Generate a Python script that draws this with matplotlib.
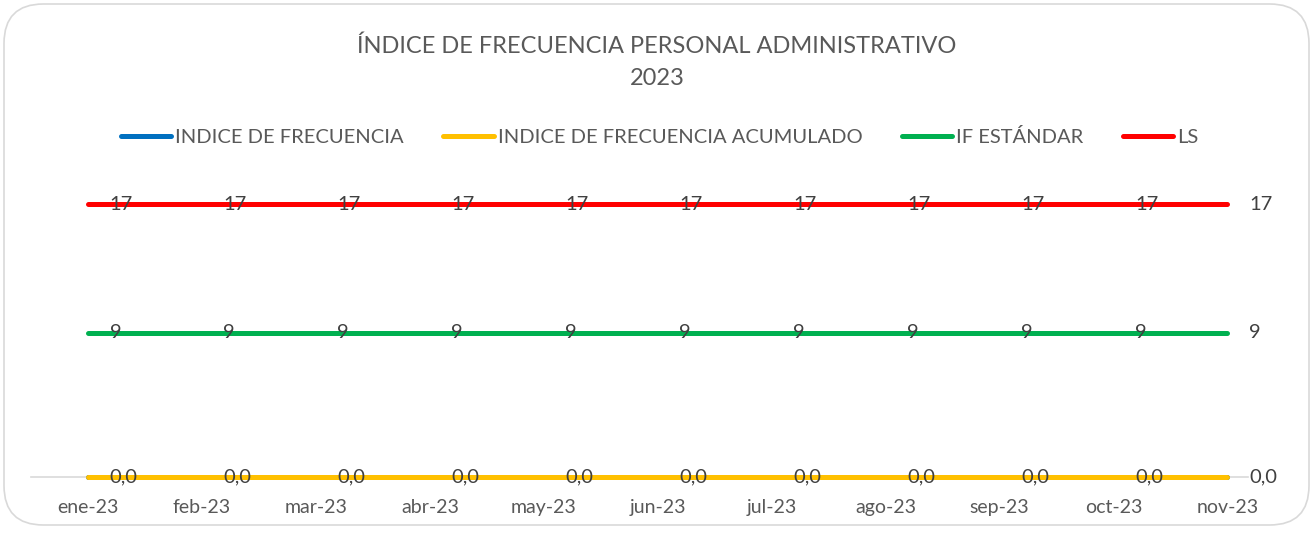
import matplotlib
matplotlib.use('Agg')
import matplotlib.pyplot as plt
from matplotlib.patches import FancyBboxPatch

meses = ['ene-23', 'feb-23', 'mar-23', 'abr-23', 'may-23', 'jun-23',
         'jul-23', 'ago-23', 'sep-23', 'oct-23', 'nov-23']
indice_frecuencia = [0.0] * 11
indice_acumulado = [0.0] * 11
if_estandar = [9] * 11
ls = [17] * 11

plt.rcParams['font.family'] = ['Lato', 'DejaVu Sans']
gris = '#595959'

W, H = 1314, 534
fig = plt.figure(figsize=(W / 100, H / 100), dpi=100)

# rounded chart border
fig.add_artist(FancyBboxPatch((4 / W, 9 / H), 1305 / W, 521 / H,
                              boxstyle='round,pad=0,rounding_size=0.03',
                              transform=fig.transFigure, fc='white',
                              ec='#d9d9d9', lw=1.2, mutation_aspect=W / H,
                              zorder=-10))

y0, y1 = 0, 18.5
ax = fig.add_axes([31 / W, 57 / H, (1248 - 31) / W, (354 - 57) / H])
ax.set_xlim(-0.5, 10.18)
ax.set_ylim(y0, y1)

x = list(range(len(meses)))
series = [
    (indice_frecuencia, '#0070c0', 'INDICE DE FRECUENCIA', '{:.1f}'),
    (indice_acumulado, '#ffc000', 'INDICE DE FRECUENCIA ACUMULADO', '{:.1f}'),
    (if_estandar, '#00b050', 'IF ESTÁNDAR', '{:d}'),
    (ls, '#ff0000', 'LS', '{:d}'),
]
for vals, col, lab, fmt in series:
    ax.plot(x, vals, color=col, lw=3.6, solid_capstyle='round', label=lab,
            zorder=3, clip_on=False)
for vals, col, lab, fmt in series[1:]:
    for xi, v in zip(x, vals):
        ax.annotate(fmt.format(v).replace('.', ','), (xi, v), xytext=(15.5, 0),
                    textcoords='offset points', ha='left', va='center',
                    fontsize=14.5, color='#404040', zorder=4,
                    annotation_clip=False)

ax.set_xticks(x)
ax.set_xticklabels(meses, fontsize=14, color=gris)
ax.tick_params(axis='x', length=0, pad=16)
ax.set_yticks([])
for s in ['top', 'right', 'left']:
    ax.spines[s].set_visible(False)
ax.spines['bottom'].set_color('#d9d9d9')
ax.spines['bottom'].set_linewidth(1.2)
ax.set_facecolor('none')

fig.text(0.5, 1 - 62 / H, 'ÍNDICE DE FRECUENCIA PERSONAL ADMINISTRATIVO\n2023',
         ha='center', va='center', fontsize=17, color=gris, linespacing=1.65)

fig.legend(loc='center', bbox_to_anchor=(0.502, 1 - 137 / H), ncol=4, frameon=False,
           fontsize=14.5, labelcolor=gris, handlelength=2.5, handletextpad=0.2,
           columnspacing=1.95)

fig.savefig('out.png', dpi=100)
